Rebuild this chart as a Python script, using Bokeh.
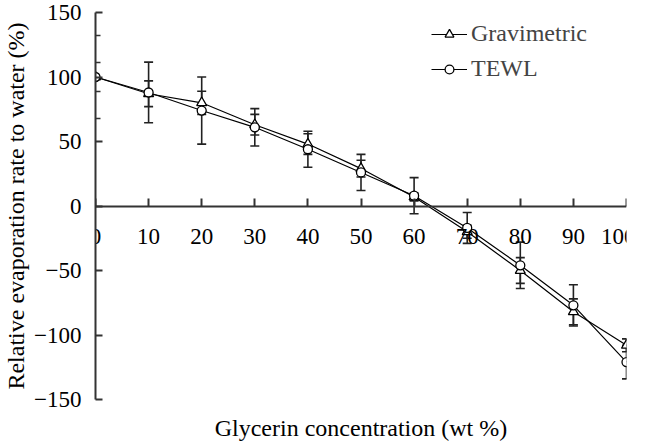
from bokeh.plotting import figure
from bokeh.models import (ColumnDataSource, Whisker, TeeHead, LinearAxis, FixedTicker,
                          Legend, LegendItem, Range1d)
from bokeh.embed import file_html
from bokeh.resources import INLINE

# ---- data ----
glycerin = [0, 10, 20, 30, 40, 50, 60, 70, 80, 90, 100]
gravimetric = [100, 87, 80, 63, 48, 29, 7, -20, -50, -82, -108]
gravimetric_err = [0, 10, 9, 8, 8, 6.5, 3, 5, 10, 10, 5]
tewl = [100, 88, 74, 61, 44, 26, 8, -17, -46, -77, -121]
tewl_err = [0, 23.5, 26, 14.5, 14, 14, 14, 12, 18, 16, 13]
x_ticks = [0, 10, 20, 30, 40, 50, 60, 70, 80, 90, 100]
y_ticks = [-150, -100, -50, 0, 50, 100, 150]
y_minor_ticks = [68, 89, 111, 132]

FONT = "Liberation Serif"
FS = "23px"
TFS = "24px"
AX = "#333333"

src_g = ColumnDataSource(dict(x=glycerin, y=gravimetric,
                              lo=[v - e for v, e in zip(gravimetric, gravimetric_err)],
                              hi=[v + e for v, e in zip(gravimetric, gravimetric_err)]))
src_t = ColumnDataSource(dict(x=glycerin, y=tewl,
                              lo=[v - e for v, e in zip(tewl, tewl_err)],
                              hi=[v + e for v, e in zip(tewl, tewl_err)]))

p = figure(frame_width=531, frame_height=387, output_backend="svg", toolbar_location=None,
           x_range=Range1d(0, 100), y_range=Range1d(-150, 150),
           min_border_left=90, min_border_right=9, min_border_top=12, min_border_bottom=29)
p.outline_line_color = None
p.grid.visible = False
p.background_fill_color = "white"

# error bars
for src in (src_t, src_g):
    w = Whisker(source=src, base="x", upper="hi", lower="lo",
                line_color="#222222", line_width=1.6,
                upper_head=TeeHead(size=9, line_width=1.6, line_color="#222222"),
                lower_head=TeeHead(size=9, line_width=1.6, line_color="#222222"))
    p.add_layout(w)

lg = p.line("x", "y", source=src_g, line_color="black", line_width=1.2)
sg = p.scatter("x", "y", source=src_g, marker="triangle", size=10,
               fill_color="white", line_color="black", line_width=1.3)
lt = p.line("x", "y", source=src_t, line_color="black", line_width=1.2)
st = p.scatter("x", "y", source=src_t, marker="circle", size=9,
               fill_color="white", line_color="black", line_width=1.3)

# x axis crossing at y = 0
xa = p.xaxis[0]
xa.fixed_location = 0
xa.ticker = FixedTicker(ticks=x_ticks)
xa.major_tick_in = 8
xa.major_tick_out = 0
xa.minor_tick_line_color = None
xa.axis_line_color = AX
xa.axis_line_width = 2
xa.major_tick_line_color = AX
xa.major_tick_line_width = 2
xa.major_label_text_font = FONT
xa.major_label_text_font_size = FS
xa.major_label_text_color = "black"
xa.major_label_standoff = 23

# title-only axis at the bottom
xt = LinearAxis(axis_label="Glycerin concentration (wt %)", ticker=FixedTicker(ticks=[]))
xt.axis_line_color = None
xt.major_tick_line_color = None
xt.minor_tick_line_color = None
xt.major_tick_out = 0
xt.major_label_standoff = 0
xt.axis_label_standoff = 15
xt.axis_label_text_font = FONT
xt.axis_label_text_font_size = TFS
xt.axis_label_text_font_style = "normal"
xt.axis_label_text_color = "black"
p.add_layout(xt, "below")

ya = p.yaxis[0]
ya.ticker = FixedTicker(ticks=y_ticks, minor_ticks=y_minor_ticks)
ya.major_tick_in = 7
ya.major_tick_out = 0
ya.minor_tick_in = 5
ya.minor_tick_out = 0
ya.axis_line_color = AX
ya.axis_line_width = 2
ya.major_tick_line_color = AX
ya.major_tick_line_width = 2
ya.minor_tick_line_color = AX
ya.minor_tick_line_width = 1.5
ya.major_label_text_font = FONT
ya.major_label_text_font_size = FS
ya.major_label_text_color = "black"
ya.major_label_standoff = 14
ya.axis_label = "Relative evaporation rate to water (%)"
ya.axis_label_text_font = FONT
ya.axis_label_text_font_size = TFS
ya.axis_label_text_font_style = "normal"
ya.axis_label_text_color = "black"
ya.axis_label_standoff = 2

legend = Legend(items=[LegendItem(label="Gravimetric", renderers=[lg, sg]),
                       LegendItem(label="TEWL", renderers=[lt, st])],
                location=(336, 317), border_line_color=None, background_fill_alpha=0,
                label_text_font=FONT, label_text_font_size="24px",
                glyph_width=36, glyph_height=22, label_height=22, spacing=8,
                padding=0, margin=0, label_standoff=4)
p.add_layout(legend, "center")

open("out.html", "w").write(file_html(p, INLINE))
